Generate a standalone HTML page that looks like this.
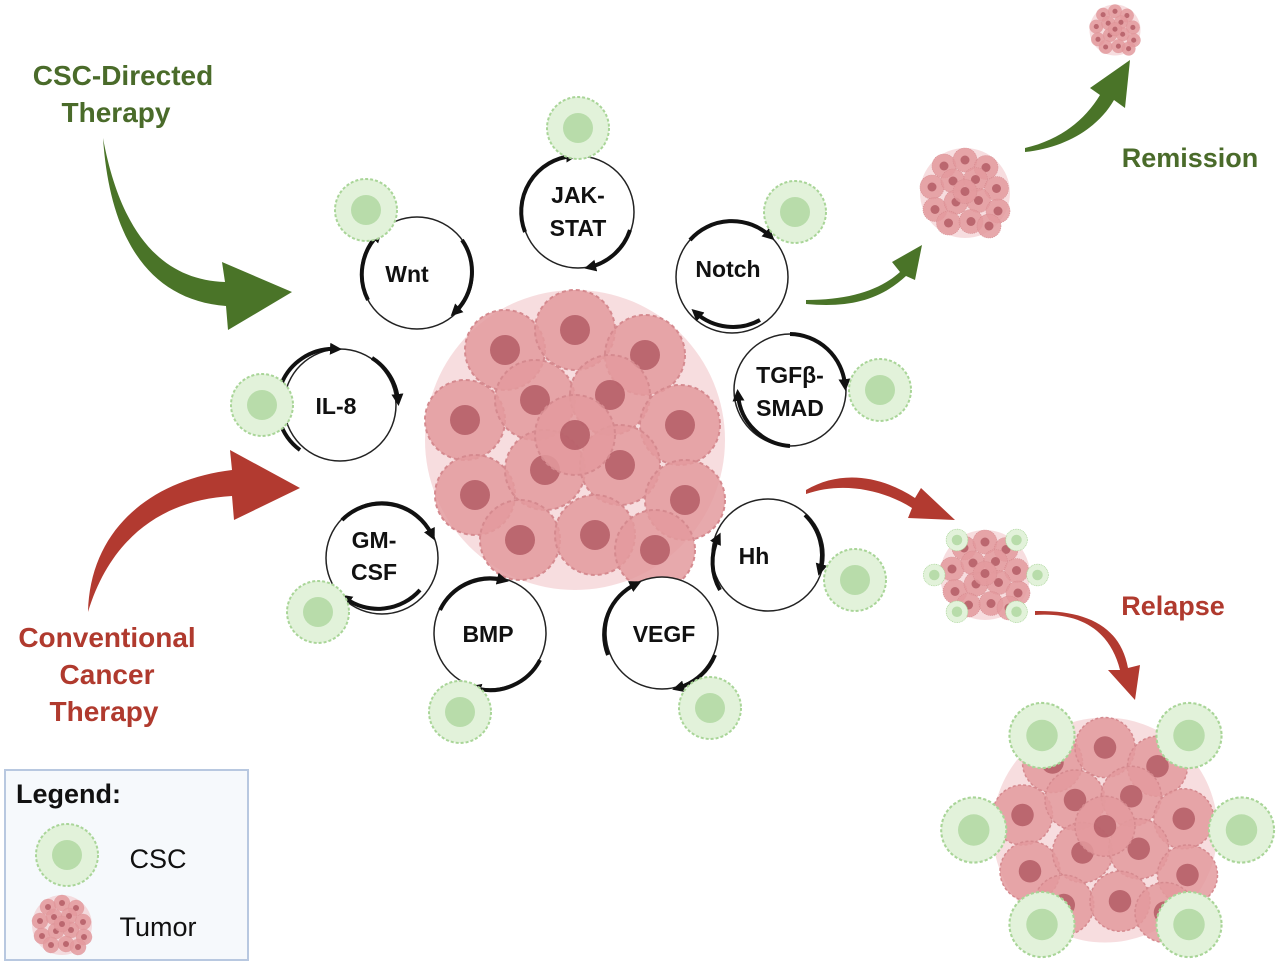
<!DOCTYPE html>
<html><head><meta charset="utf-8"><style>
html,body{margin:0;padding:0;background:#fff;}
svg{display:block;font-family:"Liberation Sans",sans-serif;}
</style></head><body>
<svg width="1280" height="968" viewBox="0 0 1280 968" xmlns="http://www.w3.org/2000/svg">
<defs>
  <g id="csc">
    <circle r="31" fill="#e2f2da" stroke="#a9d598" stroke-width="2" stroke-dasharray="3 2"/>
    <circle r="15" fill="#b8dcaa"/>
  </g>
  <g id="cell">
    <circle r="40" fill="#e39a9e" fill-opacity="0.85" stroke="#d58a8f" stroke-width="2" stroke-dasharray="4 3"/>
    <circle r="15" fill="#b05862" fill-opacity="0.8"/>
  </g>
  <g id="tumor">
    <circle r="150" fill="#f3cfd1" opacity="0.7"/>
    <use href="#cell" x="-70" y="-90"/><use href="#cell" x="0" y="-110"/><use href="#cell" x="70" y="-85"/>
    <use href="#cell" x="-110" y="-20"/><use href="#cell" x="-40" y="-40"/><use href="#cell" x="35" y="-45"/><use href="#cell" x="105" y="-15"/>
    <use href="#cell" x="-100" y="55"/><use href="#cell" x="-30" y="30"/><use href="#cell" x="45" y="25"/><use href="#cell" x="110" y="60"/>
    <use href="#cell" x="-55" y="100"/><use href="#cell" x="20" y="95"/><use href="#cell" x="80" y="110"/>
    <use href="#cell" x="0" y="-5"/>
  </g>
  <marker id="ah" markerUnits="userSpaceOnUse" markerWidth="14" markerHeight="14" refX="6" refY="7" orient="auto"><path d="M0,1L12,7L0,13z" fill="#111"/></marker>
</defs>

<use href="#tumor" transform="translate(575,440)"/>

<g fill="#fff" stroke="#222" stroke-width="1.5">
  <circle cx="417" cy="273" r="56"/><circle cx="578" cy="212" r="56"/><circle cx="732" cy="277" r="56"/>
  <circle cx="790" cy="390" r="56"/><circle cx="768" cy="555" r="56"/><circle cx="662" cy="633" r="56"/>
  <circle cx="490" cy="633" r="56"/><circle cx="382" cy="558" r="56"/><circle cx="340" cy="405" r="56"/>
</g>
<g fill="none" stroke="#111" stroke-width="4" marker-end="url(#ah)">
  <path d="M368,300 A56,56 0 0 1 378,235"/><path d="M462,240 A56,56 0 0 1 455,312"/>
  <path d="M525,232 A56,56 0 0 1 572,156"/><path d="M630,230 A56,56 0 0 1 590,267"/>
  <path d="M690,240 A56,56 0 0 1 770,236"/><path d="M760,320 A56,56 0 0 1 696,313"/>
  <path d="M790,334 A56,56 0 0 1 845,385"/><path d="M790,446 A56,56 0 0 1 738,395"/>
  <path d="M720,590 A56,56 0 0 1 718,538"/><path d="M805,515 A56,56 0 0 1 820,570"/>
  <path d="M715,655 A56,56 0 0 1 678,688"/><path d="M608,655 A56,56 0 0 1 636,584"/>
  <path d="M440,610 A56,56 0 0 1 503,580"/><path d="M540,660 A56,56 0 0 1 475,688"/>
  <path d="M342,520 A56,56 0 0 1 432,535"/><path d="M420,590 A56,56 0 0 1 345,598"/>
  <path d="M300,450 A56,56 0 0 1 336,349"/><path d="M372,358 A56,56 0 0 1 398,400"/>
</g>
<g font-weight="bold" font-size="23" fill="#111" text-anchor="middle">
  <text x="407" y="282">Wnt</text>
  <text x="578" y="203">JAK-</text><text x="578" y="236">STAT</text>
  <text x="728" y="277">Notch</text>
  <text x="790" y="383">TGFβ-</text><text x="790" y="416">SMAD</text>
  <text x="754" y="564">Hh</text><text x="664" y="642">VEGF</text><text x="488" y="642">BMP</text>
  <text x="374" y="548">GM-</text><text x="374" y="580">CSF</text>
  <text x="336" y="414">IL-8</text>
</g>

<use href="#csc" x="578" y="128"/><use href="#csc" x="366" y="210"/><use href="#csc" x="795" y="212"/>
<use href="#csc" x="880" y="390"/><use href="#csc" x="855" y="580"/><use href="#csc" x="710" y="708"/>
<use href="#csc" x="460" y="712"/><use href="#csc" x="318" y="612"/><use href="#csc" x="262" y="405"/>

<path d="M103,138 C120,230 160,280 225,282 L222,262 L292,292 L228,330 L226,306 C150,300 110,240 103,138z" fill="#4a7428"/>
<path d="M88,612 C90,530 150,480 232,470 L230,450 L300,488 L234,520 L232,496 C160,500 110,540 88,612z" fill="#b23a30"/>
<path d="M806,300 C850,300 880,290 900,272 L892,262 L922,245 L915,280 L906,276 C880,300 850,308 806,304z" fill="#4a7428"/>
<path d="M1025,148 C1060,140 1085,120 1100,95 L1090,88 L1130,60 L1125,108 L1114,100 C1098,128 1065,148 1025,152z" fill="#4a7428"/>
<path d="M806,490 C840,470 880,475 915,498 L921,488 L955,520 L908,518 L912,508 C880,488 840,482 806,494z" fill="#b23a30"/>
<path d="M1035,615 C1080,612 1110,630 1120,670 L1108,670 L1135,700 L1140,665 L1128,668 C1120,625 1085,610 1035,611z" fill="#b23a30"/>

<use href="#tumor" transform="translate(1115,30) scale(0.17)"/>
<use href="#tumor" transform="translate(965,193) scale(0.3)"/>
<use href="#tumor" transform="translate(985,575) scale(0.3)"/>
<g transform="translate(985,575) scale(0.35)">
  <use href="#csc" x="-80" y="-100"/><use href="#csc" x="90" y="-100"/><use href="#csc" x="-145" y="0"/>
  <use href="#csc" x="150" y="0"/><use href="#csc" x="-80" y="105"/><use href="#csc" x="90" y="105"/>
</g>
<use href="#tumor" transform="translate(1105,830) scale(0.75)"/>
<g transform="translate(1105,830) scale(1.05)">
  <use href="#csc" x="-60" y="-90"/><use href="#csc" x="80" y="-90"/><use href="#csc" x="-125" y="0"/>
  <use href="#csc" x="130" y="0"/><use href="#csc" x="-60" y="90"/><use href="#csc" x="80" y="90"/>
</g>

<g font-weight="bold" font-size="28" text-anchor="middle">
  <text x="123" y="85" fill="#4a6b2a">CSC-Directed</text>
  <text x="116" y="122" fill="#4a6b2a">Therapy</text>
  <text x="1190" y="167" fill="#4a6b2a" font-size="27">Remission</text>
  <text x="107" y="647" fill="#b03a2e">Conventional</text>
  <text x="107" y="684" fill="#b03a2e">Cancer</text>
  <text x="104" y="721" fill="#b03a2e">Therapy</text>
  <text x="1173" y="615" fill="#b03a2e" font-size="27">Relapse</text>
</g>

<rect x="5" y="770" width="243" height="190" fill="#f6f9fc" stroke="#b8c8e0" stroke-width="2"/>
<text x="16" y="803" font-size="27" font-weight="bold" fill="#111">Legend:</text>
<use href="#csc" x="67" y="855"/>
<use href="#tumor" transform="translate(62,925) scale(0.2)"/>
<text x="158" y="868" font-size="27" fill="#111" text-anchor="middle">CSC</text>
<text x="158" y="936" font-size="27" fill="#111" text-anchor="middle">Tumor</text>
</svg>
</body></html>
